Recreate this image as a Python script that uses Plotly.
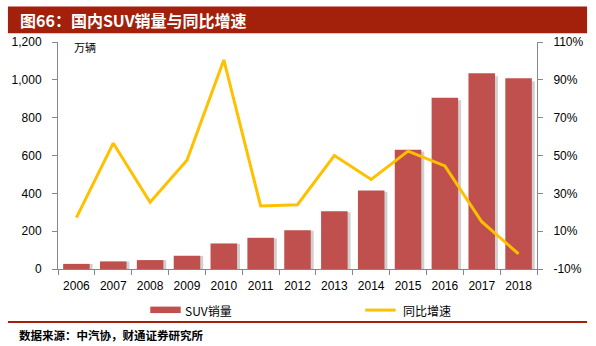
import plotly.graph_objects as go

years = ["2006", "2007", "2008", "2009", "2010", "2011", "2012", "2013",
         "2014", "2015", "2016", "2017", "2018"]
suv_sales = [27, 40, 47, 70, 135, 165, 205, 305, 415, 630, 905, 1035, 1008]
yoy_growth = [17.2, 56.5, 25.3, 47.5, 100.5, 23.3, 24.0, 50.0, 37.3, 52.3, 44.5, 15.0, -2.0]
left_ticks = [0, 200, 400, 600, 800, 1000, 1200]
left_tick_text = ["0", "200", "400", "600", "800", "1,000", "1,200"]
right_ticks = [-10, 10, 30, 50, 70, 90, 110]
right_tick_text = ["-10%", "10%", "30%", "50%", "70%", "90%", "110%"]

W, H = 596, 346
L, R, T, B = 53, 541, 41.7, 269.3


def px(x):
    return (x - L) / (R - L)


def py(y):
    return (B - y) / (B - T)


fig = go.Figure()
# soft shadow behind bars
fig.add_trace(go.Bar(x=years, y=[v * 0.985 for v in suv_sales], marker_color="rgba(120,120,120,0.35)",
                     marker_line_width=0, width=0.72, offset=-0.36 + 0.08, yaxis="y",
                     showlegend=False, hoverinfo="skip"))
fig.add_trace(go.Bar(x=years, y=suv_sales, name="SUV销量", marker_color="#c0504d",
                     marker_line_width=0, width=0.72, offset=-0.36, yaxis="y", showlegend=False))
fig.add_trace(go.Scatter(x=years, y=yoy_growth, name="同比增速", mode="lines",
                         line=dict(color="#ffc000", width=3), yaxis="y2", showlegend=False))

axis_font = dict(family="Liberation Sans, Arial", size=12, color="#000")
fig.update_layout(
    width=W, height=H,
    margin=dict(l=L, r=W - R, t=T, b=H - B),
    paper_bgcolor="white", plot_bgcolor="white",
    barmode="overlay",
    xaxis=dict(type="category", showline=True, linecolor="#888", linewidth=1,
               ticks="outside", tickson="boundaries", ticklen=5, tickcolor="#888",
               tickfont=axis_font, showgrid=False, zeroline=False, ticklabelstandoff=6),
    yaxis=dict(range=[0, 1200], tickvals=left_ticks, ticktext=left_tick_text,
               showline=True, linecolor="#888", linewidth=1, ticks="outside",
               ticklen=5, tickcolor="#888", tickfont=axis_font, showgrid=False,
               zeroline=False, ticklabelstandoff=8),
    yaxis2=dict(range=[-10, 110], tickvals=right_ticks, ticktext=right_tick_text,
                overlaying="y", side="right", showline=True, linecolor="#888",
                linewidth=1, ticks="outside", ticklen=5, tickcolor="#888",
                tickfont=axis_font, showgrid=False, zeroline=False, ticklabelstandoff=8),
)

shapes = []
# title bar
shapes.append(dict(type="rect", xref="paper", yref="paper", x0=px(2), x1=px(592),
                   y0=py(33), y1=py(6), fillcolor="#a3200b", line_width=0, layer="below"))
# legend bar symbol
shapes.append(dict(type="rect", xref="paper", yref="paper", x0=px(147), x1=px(178),
                   y0=py(313.5), y1=py(307), fillcolor="#c0504d", line_width=0))
# legend line symbol
shapes.append(dict(type="line", xref="paper", yref="paper", x0=px(366), x1=px(397),
                   y0=py(310.5), y1=py(310.5), line=dict(color="#ffc000", width=3)))
# separator line
shapes.append(dict(type="line", xref="paper", yref="paper", x0=px(2), x1=px(592),
                   y0=py(322.5), y1=py(322.5), line=dict(color="#a3200b", width=2)))
fig.update_layout(shapes=shapes)

cjk = "Noto Sans CJK SC"
ann = [
    dict(text="<b>图66：国内SUV销量与同比增速</b>", x=px(12), y=py(19.5), xanchor="left",
         yanchor="middle", font=dict(family=cjk, size=16, color="white")),
    dict(text="万辆", x=px(67), y=py(47), xanchor="left", yanchor="middle",
         font=dict(family=cjk, size=11, color="#000")),
    dict(text="SUV销量", x=px(180), y=py(310.5), xanchor="left", yanchor="middle",
         font=dict(family=cjk, size=12, color="#000")),
    dict(text="同比增速", x=px(402), y=py(310.5), xanchor="left", yanchor="middle",
         font=dict(family=cjk, size=12, color="#000")),
    dict(text="<b>数据来源：中汽协，财通证券研究所</b>", x=px(11), y=py(335), xanchor="left",
         yanchor="middle", font=dict(family=cjk, size=11.5, color="#000")),
]
for a in ann:
    a.update(xref="paper", yref="paper", showarrow=False)
fig.update_layout(annotations=ann)

fig.write_html("out.html")
